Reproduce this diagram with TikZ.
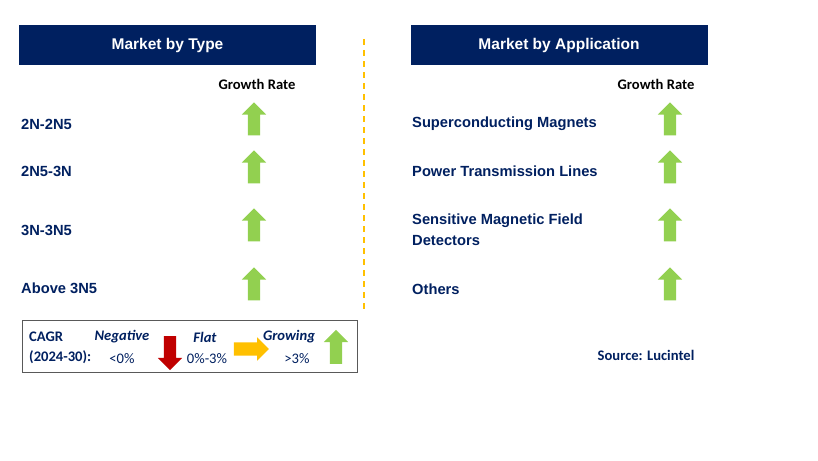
\documentclass[tikz,border=0pt]{standalone}
\usepackage{fontspec}
\setmainfont{Liberation Sans}
\newfontfamily\calibri{Carlito}
\usetikzlibrary{positioning,shapes.arrows}
\definecolor{LucNavy}{HTML}{002060}
\definecolor{LucGreen}{HTML}{92D050}
\definecolor{LucRed}{HTML}{C00000}
\definecolor{LucYellow}{HTML}{FFC000}
\tikzstyle{titlebox} = [fill=LucNavy,text=white,font=\bfseries\fontsize{15.5}{18}\selectfont,minimum width=297pt,minimum height=40pt,inner sep=0pt]
\tikzstyle{item} = [anchor=west,text=LucNavy,font=\bfseries\fontsize{14.7}{21}\selectfont,inner sep=0pt,align=left]
\tikzstyle{rate} = [font=\calibri\bfseries\fontsize{14.6}{17}\selectfont,inner sep=0pt]
\tikzstyle{arrowbase} = [single arrow,minimum height=33pt,inner sep=6pt,single arrow head extend=6pt,single arrow tip angle=90]
\tikzstyle{uparrow} = [arrowbase,fill=LucGreen,shape border rotate=90]
\tikzstyle{legtext} = [font=\calibri\fontsize{14.6}{17}\selectfont,text=LucNavy,inner sep=0pt]
\tikzstyle{legkey} = [font=\calibri\bfseries\itshape\fontsize{14.6}{17}\selectfont,text=LucNavy,inner sep=0pt]
\begin{document}
\begin{tikzpicture}[x=1pt,y=-1pt]
\useasboundingbox[fill=white] (0,0) rectangle (818,460);
% headers
\node[titlebox] (typehead) at (167.5,45) {Market by Type};
\node[titlebox] (apphead) at (559,45) {Market by Application};
\draw[LucYellow,line width=1.6pt,dash pattern=on 6pt off 5pt] (364,39) -- (364,313);
\node[rate] (typerate) at (257,84) {Growth Rate};
\node[rate] (apprate) at (656,84) {Growth Rate};
% market by type
\node[item] (t1) at (21,124) {2N-2N5};
\node[item] (t2) at (21,171) {2N5-3N};
\node[item] (t3) at (21,230) {3N-3N5};
\node[item] (t4) at (21,288) {Above 3N5};
\node[uparrow] (ta1) at (254,122) {};
\node[uparrow] (ta2) at (254,170) {};
\node[uparrow] (ta3) at (254,228) {};
\node[uparrow] (ta4) at (254,287) {};
% market by application
\node[item] (a1) at (412,124) {Superconducting Magnets};
\node[item] (a2) at (412,171) {Power Transmission Lines};
\node[item] (a3) at (412,229.5) {Sensitive Magnetic Field\\Detectors};
\node[item] (a4) at (412,289) {Others};
\node[uparrow] (aa1) at (670,122) {};
\node[uparrow] (aa2) at (670,170) {};
\node[uparrow] (aa3) at (670,228) {};
\node[uparrow] (aa4) at (670,287) {};
% legend
\draw[gray!70!black,line width=0.8pt] (22,320) rectangle (357,372);
\node[legtext,font=\calibri\bfseries\fontsize{14.6}{17}\selectfont,anchor=west] (cagr) at (29,337) {CAGR};
\node[legtext,font=\calibri\bfseries\fontsize{14.6}{17}\selectfont,anchor=west] (years) at (29,357) {(2024-30):};
\node[legkey] (neg) at (122,337) {Negative};
\node[legtext] (negval) at (122,359) {<0\%};
\node[arrowbase,fill=LucRed,shape border rotate=270,minimum height=34pt] (negarrow) at (170,350) {};
\node[legkey] (flat) at (205,337) {Flat};
\node[legtext] (flatval) at (207,359) {0\%-3\%};
\node[arrowbase,fill=LucYellow,minimum height=35pt,inner sep=6.5pt,single arrow head extend=5pt] (flatarrow) at (248,349) {};
\node[legkey] (grow) at (289,337) {Growing};
\node[legtext] (growval) at (297,359) {>3\%};
\node[uparrow,minimum height=34pt] (growarrow) at (336,350) {};
\node[rate,text=LucNavy] (source) at (646,355) {Source: Lucintel};
\end{tikzpicture}
\end{document}
